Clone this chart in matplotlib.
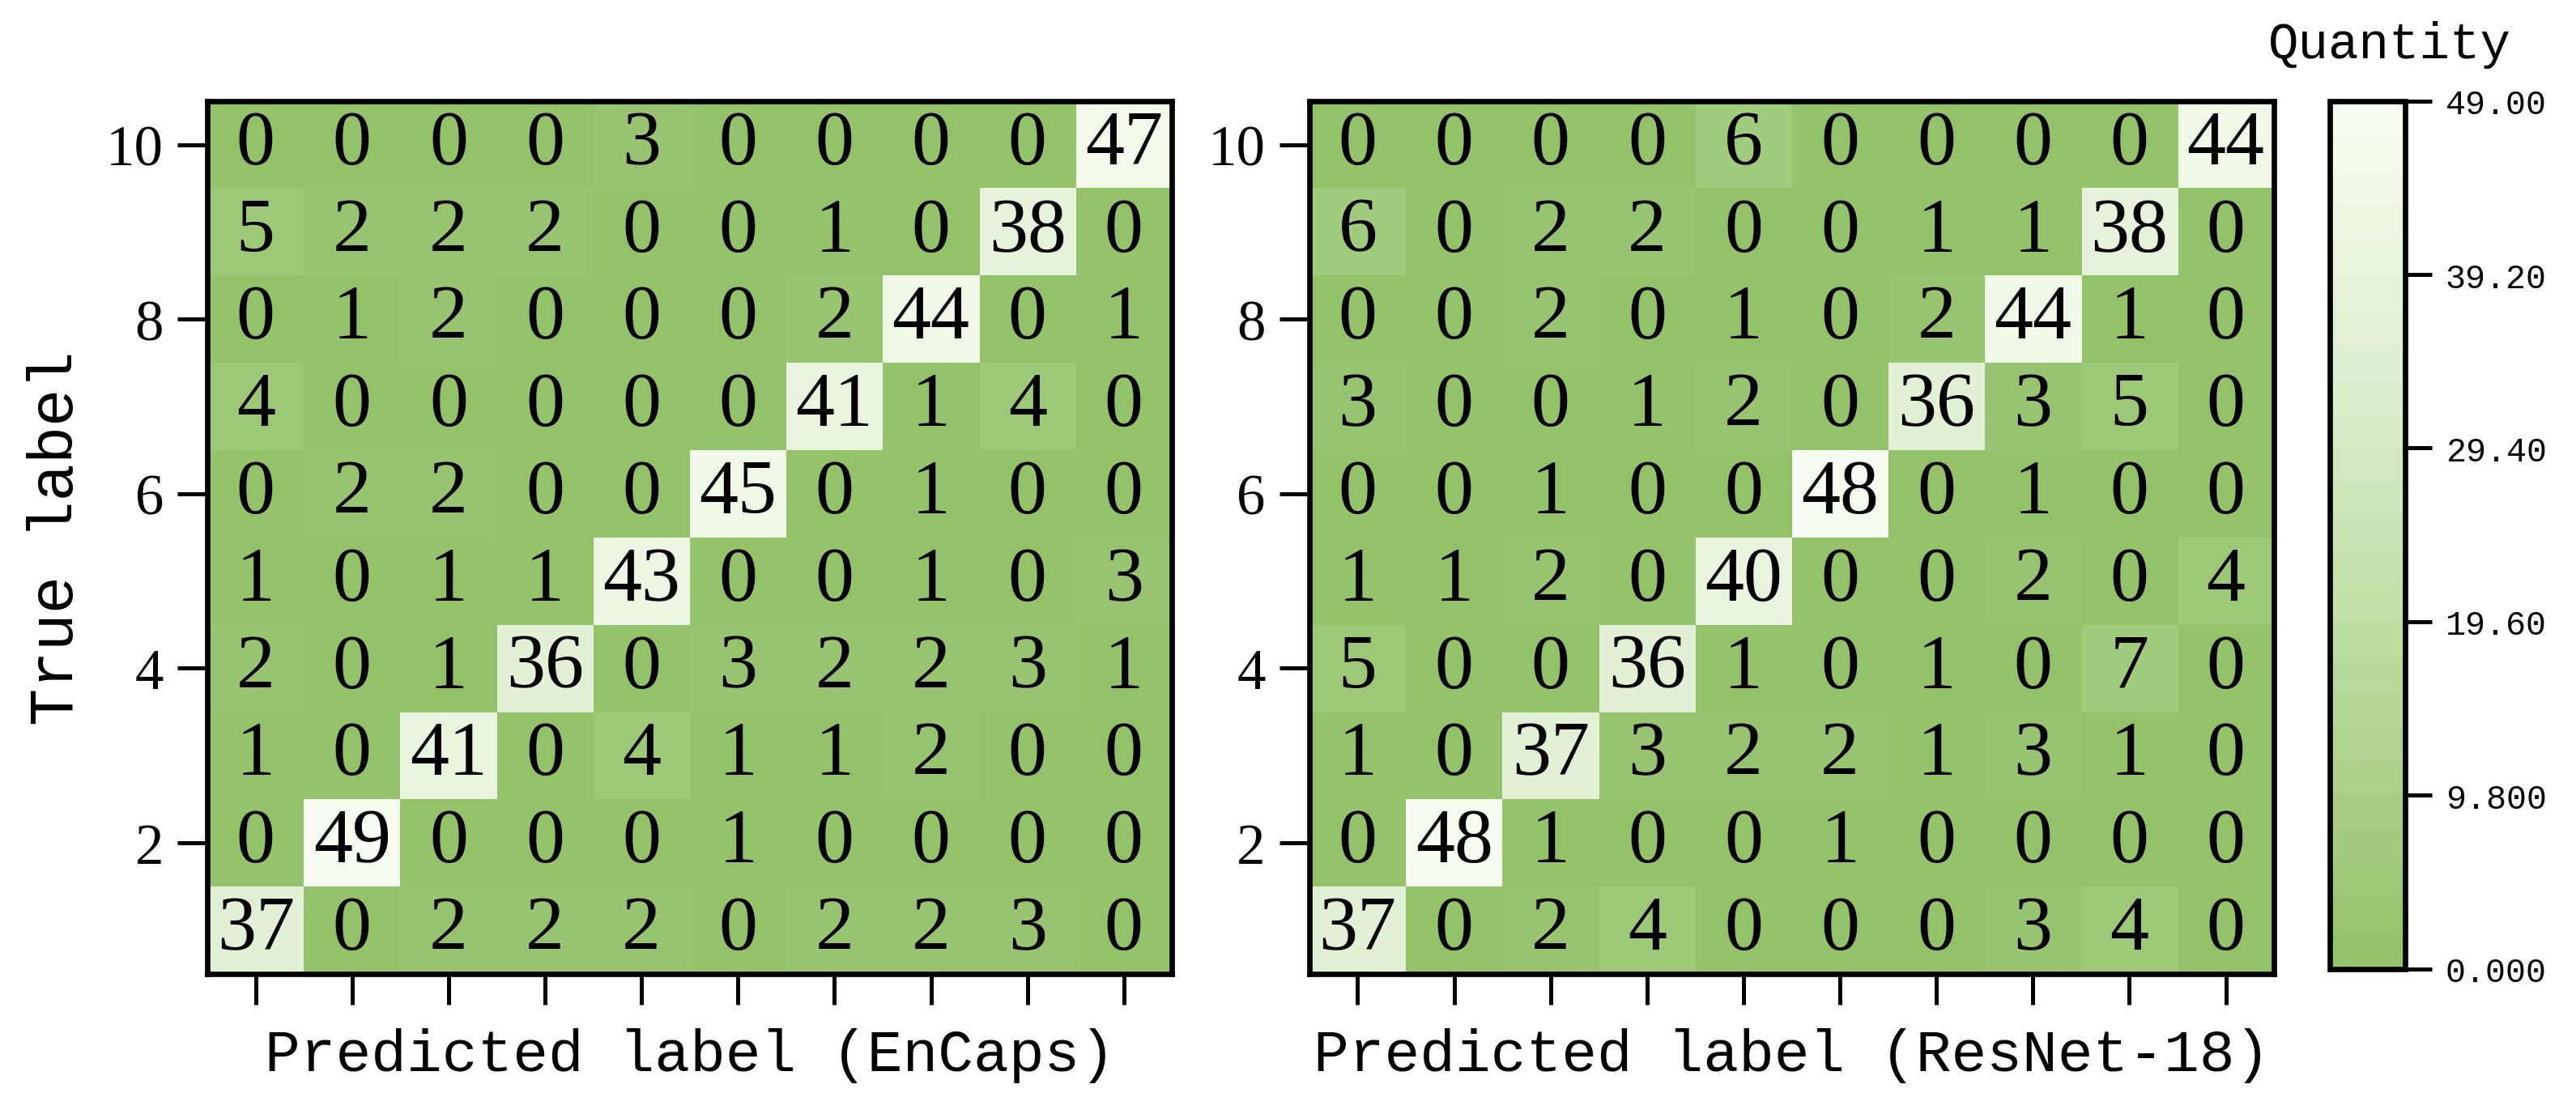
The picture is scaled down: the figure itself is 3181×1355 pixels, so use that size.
import numpy as np
import matplotlib
matplotlib.use("Agg")
import matplotlib.pyplot as plt
from matplotlib.colors import LinearSegmentedColormap

# confusion matrices, rows listed from class 10 (top) down to class 1
encaps = [
    [0, 0, 0, 0, 3, 0, 0, 0, 0, 47],
    [5, 2, 2, 2, 0, 0, 1, 0, 38, 0],
    [0, 1, 2, 0, 0, 0, 2, 44, 0, 1],
    [4, 0, 0, 0, 0, 0, 41, 1, 4, 0],
    [0, 2, 2, 0, 0, 45, 0, 1, 0, 0],
    [1, 0, 1, 1, 43, 0, 0, 1, 0, 3],
    [2, 0, 1, 36, 0, 3, 2, 2, 3, 1],
    [1, 0, 41, 0, 4, 1, 1, 2, 0, 0],
    [0, 49, 0, 0, 0, 1, 0, 0, 0, 0],
    [37, 0, 2, 2, 2, 0, 2, 2, 3, 0],
]
resnet = [
    [0, 0, 0, 0, 6, 0, 0, 0, 0, 44],
    [6, 0, 2, 2, 0, 0, 1, 1, 38, 0],
    [0, 0, 2, 0, 1, 0, 2, 44, 1, 0],
    [3, 0, 0, 1, 2, 0, 36, 3, 5, 0],
    [0, 0, 1, 0, 0, 48, 0, 1, 0, 0],
    [1, 1, 2, 0, 40, 0, 0, 2, 0, 4],
    [5, 0, 0, 36, 1, 0, 1, 0, 7, 0],
    [1, 0, 37, 3, 2, 2, 1, 3, 1, 0],
    [0, 48, 1, 0, 0, 1, 0, 0, 0, 0],
    [37, 0, 2, 4, 0, 0, 0, 3, 4, 0],
]
classes = list(range(1, 11))
ytick_vals = [2, 4, 6, 8, 10]
xlabels = ["Predicted label (EnCaps)", "Predicted label (ResNet-18)"]
ylabel = "True label"
cbar_title = "Quantity"
vmin, vmax = 0, 49

serif = "Liberation Serif"
mono = "Liberation Mono"

cmap = LinearSegmentedColormap.from_list(
    "grn", ["#94c26b", "#b9da9c", "#dcedcc", "#f7fcf0"], N=25)

fig = plt.figure(figsize=(3181 / 300, 1356 / 300), dpi=300)
ax1 = fig.add_axes([0.0805, 0.1123, 0.3745, 0.7950])
ax2 = fig.add_axes([0.5083, 0.1123, 0.3745, 0.7950])
cax = fig.add_axes([0.9044, 0.1168, 0.0292, 0.7905])

for ax, mat, xl in [(ax1, encaps, xlabels[0]), (ax2, resnet, xlabels[1])]:
    m = np.array(mat)[::-1]  # row 0 -> class 1
    im = ax.imshow(m, cmap=cmap, vmin=vmin, vmax=vmax, origin="lower",
                   aspect="auto",
                   extent=[0.5, 10.5, 0.5, 10.5])
    for i, c_true in enumerate(classes):
        for j, c_pred in enumerate(classes):
            ax.text(c_pred, c_true, str(m[i, j]), ha="center", va="center",
                    fontsize=23, family=serif, color="black")
    ax.set_xticks(classes)
    ax.set_xticklabels([])
    ax.set_yticks(ytick_vals)
    ax.set_yticklabels([str(v) for v in ytick_vals], fontsize=17, family=serif)
    ax.tick_params(direction="out", length=9, width=1.2, pad=4)
    for s in ax.spines.values():
        s.set_linewidth(1.6)
    ax.set_xlabel(xl, fontsize=17.5, family=mono, labelpad=3)

ax1.set_ylabel(ylabel, fontsize=18.5, family=mono, labelpad=6)

cb = fig.colorbar(im, cax=cax)
ticks = np.linspace(vmin, vmax, 6)
cb.set_ticks(ticks)
cb.set_ticklabels([f"{t:#.4g}" for t in ticks])
cb.ax.tick_params(labelsize=10, length=8, width=1.2, pad=4)
for lab in cb.ax.get_yticklabels():
    lab.set_family(mono)
cb.outline.set_linewidth(1.6)
cb.ax.set_title(cbar_title, fontsize=15, family=mono, pad=13, x=0.8)

fig.savefig("out.png", dpi=300)
